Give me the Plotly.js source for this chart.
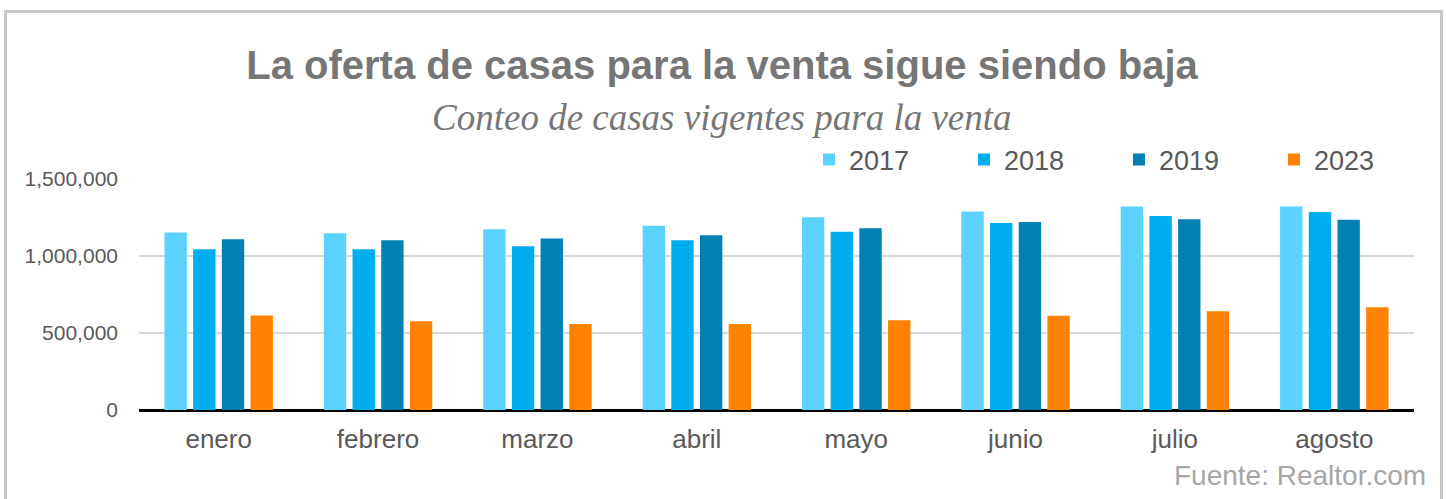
<!DOCTYPE html>
<html>
<head>
<meta charset="utf-8">
<script src="https://cdn.plot.ly/plotly-3.0.1.min.js"></script>
<style>
html,body{margin:0;padding:0;background:#fff;}
#chart{width:1446px;height:499px;}
</style>
</head>
<body>
<div id="chart"></div>
<script>
// ---- data ----
var months = ["enero","febrero","marzo","abril","mayo","junio","julio","agosto"];
var seriesNames = ["2017","2018","2019","2023"];
var v2017 = [1152000,1148000,1174000,1196000,1252000,1289000,1321000,1321000];
var v2018 = [1044000,1044000,1064000,1103000,1157000,1215000,1259000,1285000];
var v2019 = [1109000,1103000,1113000,1135000,1181000,1220000,1239000,1235000];
var v2023 = [614000,577000,558000,558000,582000,612000,642000,668000];
var yTickVals = [0,500000,1000000,1500000];
var yTickText = ["0","500,000","1,000,000","1,500,000"];
var titleText = "La oferta de casas para la venta sigue siendo baja";
var subtitleText = "Conteo de casas vigentes para la venta";
var sourceText = "Fuente: Realtor.com";

// ---- styles ----
var colors = ["#5BD2FF","#00ADEE","#0080B3","#FF8200"];
var W = 1446, H = 499;
var L = 139, R = 32, T = 179, B = 89;
var pw = W - L - R, ph = H - T - B;
function px2x(px){ return (px - L) / pw; }
function py2y(py){ return (H - B - py) / ph; }

var allVals = [v2017, v2018, v2019, v2023];
var traces = allVals.map(function(vals, i){
  return {
    type: "bar",
    name: seriesNames[i],
    x: months,
    y: vals,
    marker: {color: colors[i], line: {width: 0}},
    hoverinfo: "x+y+name"
  };
});

var layout = {
  width: W, height: H,
  margin: {l: L, r: R, t: T, b: B, pad: 0, autoexpand: false},
  paper_bgcolor: "#ffffff",
  plot_bgcolor: "#ffffff",
  barmode: "group",
  bargap: 0.28,
  bargroupgap: 0.22,
  font: {family: "Liberation Sans, Arial, sans-serif", color: "#595959"},
  title: {
    text: titleText,
    font: {family: "Liberation Sans, Arial, sans-serif", size: 40, color: "#767676", weight: "bold"},
    x: px2x(722), xref: "paper", xanchor: "center",
    y: 1 - 65 / H, yref: "container", yanchor: "middle"
  },
  xaxis: {
    type: "category",
    showgrid: false,
    showline: false,
    ticks: "",
    tickfont: {size: 26, color: "#595959"},
    ticklabelstandoff: 11,
    fixedrange: true
  },
  yaxis: {
    range: [0, 1500000],
    tickvals: yTickVals,
    ticktext: yTickText,
    showgrid: true,
    gridcolor: "#d9d9d9",
    gridwidth: 2,
    zeroline: true,
    zerolinecolor: "#000000",
    zerolinewidth: 3,
    showline: false,
    ticks: "",
    tickfont: {size: 21, color: "#595959"},
    ticklabelstandoff: 20,
    fixedrange: true
  },
  showlegend: true,
  legend: {
    orientation: "h",
    x: px2x(809), xanchor: "left",
    y: py2y(160), yanchor: "middle",
    font: {size: 27, color: "#595959"},
    entrywidth: 110, entrywidthmode: "pixels",
    bgcolor: "rgba(0,0,0,0)",
    traceorder: "normal",
    itemclick: false, itemdoubleclick: false
  },
  annotations: [
    {
      text: subtitleText,
      xref: "paper", yref: "paper",
      x: px2x(722), y: py2y(117),
      xanchor: "center", yanchor: "middle",
      showarrow: false,
      font: {family: "Liberation Serif, Times New Roman, serif", size: 37, color: "#767676", style: "italic"}
    },
    {
      text: sourceText,
      xref: "paper", yref: "paper",
      x: px2x(1428), y: py2y(475),
      xanchor: "right", yanchor: "middle",
      showarrow: false,
      font: {family: "Liberation Sans, Arial, sans-serif", size: 28, color: "#a6a6a6"}
    }
  ],
  shapes: [
    {type: "line", xref: "paper", yref: "paper", x0: px2x(5.5), x1: px2x(5.5), y0: py2y(11.5), y1: py2y(520), line: {color: "#c8c8c8", width: 3}},
    {type: "line", xref: "paper", yref: "paper", x0: px2x(4), x1: px2x(1443), y0: py2y(11.5), y1: py2y(11.5), line: {color: "#c8c8c8", width: 3}},
    {type: "line", xref: "paper", yref: "paper", x0: px2x(1441.5), x1: px2x(1441.5), y0: py2y(11.5), y1: py2y(520), line: {color: "#c8c8c8", width: 3}}
  ]
};

Plotly.newPlot("chart", traces, layout, {displayModeBar: false, staticPlot: true});
</script>
</body>
</html>
